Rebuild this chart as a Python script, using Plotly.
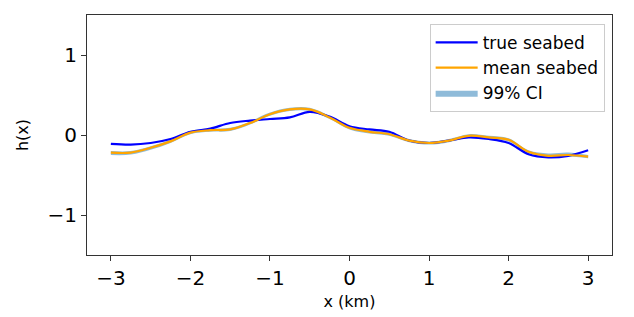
import plotly.graph_objects as go

x_km = [-3, -2.75, -2.5, -2.25, -2, -1.75, -1.5, -1.25, -1, -0.75, -0.5, -0.25,
        0, 0.25, 0.5, 0.75, 1, 1.25, 1.5, 1.75, 2, 2.25, 2.5, 2.75, 3]
true_seabed = [-0.11, -0.12, -0.10, -0.05, 0.04, 0.08, 0.15, 0.18, 0.20, 0.22, 0.29, 0.23,
               0.11, 0.07, 0.04, -0.07, -0.10, -0.07, -0.03, -0.05, -0.10, -0.24, -0.28, -0.26, -0.19]
mean_seabed = [-0.22, -0.22, -0.16, -0.08, 0.03, 0.06, 0.07, 0.15, 0.26, 0.32, 0.32, 0.22,
               0.09, 0.04, 0.01, -0.07, -0.10, -0.07, -0.01, -0.03, -0.06, -0.21, -0.26, -0.25, -0.27]
ci_lower = [-0.25, -0.245, -0.185, -0.10, 0.01, 0.04, 0.05, 0.13, 0.24, 0.30, 0.30, 0.20,
            0.07, 0.02, -0.01, -0.09, -0.12, -0.09, -0.03, -0.05, -0.08, -0.23, -0.28, -0.27, -0.29]
ci_upper = [-0.20, -0.20, -0.14, -0.06, 0.05, 0.08, 0.09, 0.17, 0.28, 0.34, 0.34, 0.24,
            0.11, 0.06, 0.03, -0.05, -0.08, -0.05, 0.01, -0.01, -0.04, -0.19, -0.23, -0.22, -0.25]

x_ticks = [-3, -2, -1, 0, 1, 2, 3]
x_tick_labels = ["−3", "−2", "−1", "0", "1", "2", "3"]
y_ticks = [-1, 0, 1]
y_tick_labels = ["−1", "0", "1"]

fig = go.Figure()
fig.add_trace(go.Scatter(x=x_km, y=ci_lower, mode="lines", line=dict(width=0, shape="spline"),
                         showlegend=False, hoverinfo="skip", legendrank=4))
fig.add_trace(go.Scatter(x=x_km, y=ci_upper, mode="lines", line=dict(width=0, shape="spline"),
                         fill="tonexty", fillcolor="rgba(31,119,180,0.5)", name="99% CI",
                         showlegend=True, hoverinfo="skip", legendrank=3))
fig.add_trace(go.Scatter(x=x_km, y=true_seabed, mode="lines", name="true seabed",
                         line=dict(color="#0000ff", width=2.2, shape="spline"), legendrank=1))
fig.add_trace(go.Scatter(x=x_km, y=mean_seabed, mode="lines", name="mean seabed",
                         line=dict(color="#ffa500", width=2.2, shape="spline"), legendrank=2))

axis_common = dict(showline=True, linecolor="#333", linewidth=1, mirror=True,
                   ticks="outside", ticklen=5, tickcolor="#333", showgrid=False,
                   zeroline=False, tickfont=dict(size=20, color="black"), automargin=False)
fig.update_xaxes(range=[-3.3, 3.3], tickvals=x_ticks, ticktext=x_tick_labels,
                 title=dict(text="x (km)", font=dict(size=16, color="black"), standoff=6),
                 **axis_common)
fig.update_yaxes(range=[-1.5, 1.5], tickvals=y_ticks, ticktext=y_tick_labels,
                 title=dict(text="h(x)", font=dict(size=16, color="black"), standoff=14),
                 **axis_common)
fig.update_layout(
    width=634, height=317,
    margin=dict(l=87, r=22, t=15, b=62),
    paper_bgcolor="white", plot_bgcolor="white",
    font=dict(family="DejaVu Sans", color="black"),
    legend=dict(x=0.986, y=0.963, xanchor="right", yanchor="top",
                bgcolor="rgba(255,255,255,0.8)", bordercolor="#ccc", borderwidth=1,
                font=dict(size=17), tracegroupgap=0, traceorder="normal", itemwidth=42),
    showlegend=True,
)
fig.write_html("out.html", config={"displayModeBar": False},
               post_script="document.body.style.margin='0px';document.body.style.overflow='hidden';")
